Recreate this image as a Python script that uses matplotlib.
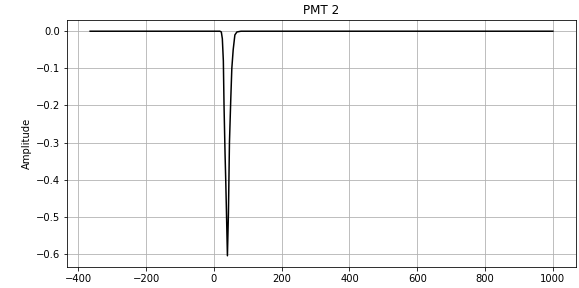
import matplotlib
matplotlib.use("Agg")
import matplotlib.pyplot as plt

# sample times (ns) and amplitude for PMT 2
t = [-365, -200, 0, 18, 22, 25, 28, 30, 33, 35, 37, 40, 43, 46, 50, 53, 57, 62, 68, 80, 300, 600, 1000]
amp = [0.0, 0.0, 0.0, 0.0, -0.002, -0.02, -0.08, -0.2, -0.33, -0.40, -0.48, -0.605,
       -0.49, -0.30, -0.18, -0.10, -0.05, -0.01, -0.002, 0.0, 0.0, 0.0, 0.0]

fig = plt.figure(figsize=(579 / 72, 288 / 72), dpi=72)
ax = fig.add_axes([0.1157, 0.0729, 0.8791, 0.8577])
ax.plot(t, amp, color="black", lw=1.5)
ax.set_title("PMT 2", fontsize=12)
ax.set_ylabel("Amplitude", fontsize=10)
ax.set_xticks([-400, -200, 0, 200, 400, 600, 800, 1000])
ax.set_yticks([0.0, -0.1, -0.2, -0.3, -0.4, -0.5, -0.6])
ax.tick_params(labelsize=10)
ax.grid(True)
fig.savefig("out.png", dpi=72)
